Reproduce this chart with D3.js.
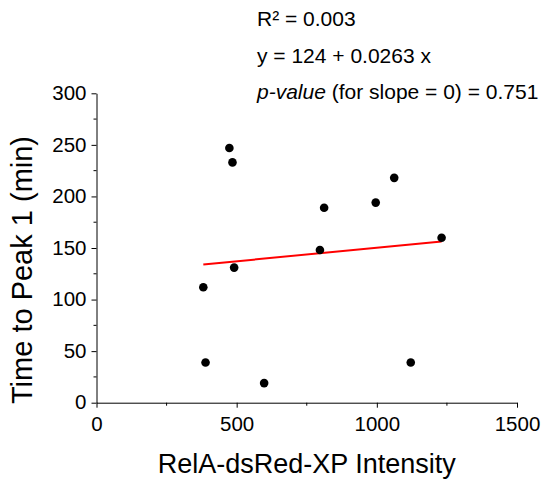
<!DOCTYPE html>
<html>
<head>
<meta charset="utf-8">
<script src="https://cdn.jsdelivr.net/npm/d3@7"></script>
<style>
  body { margin: 0; background: #fff; }
  svg text { font-family: "Liberation Sans", Arial, sans-serif; fill: #000; }
</style>
</head>
<body>
<svg id="chart" width="544" height="481"></svg>
<script>
// values
var intensity = [381, 389, 474, 485, 491, 598, 797, 812, 996, 1062, 1121, 1231];
var peakTime  = [112, 39, 247, 233, 131, 19, 148, 189, 194, 218, 39, 160];

var fitIntercept = 124;
var fitSlope = 0.0263;

var xTicks = [0, 500, 1000, 1500];
var xMinor = [250, 750, 1250];
var yTicks = [0, 50, 100, 150, 200, 250, 300];
var yMinor = [25, 75, 125, 175, 225, 275];

var statLines = ["R\u00B2 = 0.003", "y = 124 + 0.0263 x", "p-value (for slope = 0) = 0.751"];

var svg = d3.select("#chart");

var x = d3.scaleLinear().domain([0, 1500]).range([96.5, 517]);
var y = d3.scaleLinear().domain([0, 300]).range([402.7, 93.3]);

// axes
var xAxis = svg.append("g")
               .attr("transform", "translate(0," + y(0) + ")")
               .call(d3.axisBottom(x).tickValues(xTicks).tickFormat(d3.format("d"))
                       .tickSize(5).tickPadding(9).tickSizeOuter(0));

xAxis.selectAll(".minor")
     .data(xMinor)
     .enter()
     .append("line")
     .attr("class", "minor")
     .attr("x1", function(d) { return x(d) })
     .attr("x2", function(d) { return x(d) })
     .attr("y1", 0)
     .attr("y2", 3)
     .attr("stroke", "#000");

var yAxis = svg.append("g")
               .attr("transform", "translate(" + x(0) + ",0)")
               .call(d3.axisLeft(y).tickValues(yTicks).tickFormat(d3.format("d"))
                       .tickSize(5).tickPadding(5).tickSizeOuter(0));

yAxis.selectAll(".minor")
     .data(yMinor)
     .enter()
     .append("line")
     .attr("class", "minor")
     .attr("y1", function(d) { return y(d) })
     .attr("y2", function(d) { return y(d) })
     .attr("x1", 0)
     .attr("x2", -3)
     .attr("stroke", "#000");

svg.selectAll(".domain").attr("stroke", "#000");
svg.selectAll(".tick line").attr("stroke", "#000");
svg.selectAll(".tick text")
   .style("font-size", "20.5px")
   .attr("fill", "#000");
yAxis.selectAll(".tick text").attr("dy", "0.3em");

// axis titles
svg.append("text")
   .attr("x", (x(0) + x(1500)) / 2)
   .attr("y", 473)
   .attr("text-anchor", "middle")
   .style("font-size", "27px")
   .text("RelA-dsRed-XP Intensity");

svg.append("text")
   .attr("transform", "translate(32," + 270 + ") rotate(-90)")
   .attr("text-anchor", "middle")
   .style("font-size", "29px")
   .text("Time to Peak 1 (min)");

// fit line
var xExt = d3.extent(intensity);
svg.append("line")
   .attr("x1", x(xExt[0]))
   .attr("x2", x(xExt[1]))
   .attr("y1", y(fitIntercept + fitSlope * xExt[0]))
   .attr("y2", y(fitIntercept + fitSlope * xExt[1]))
   .attr("stroke", "#ff0000")
   .attr("stroke-width", 2);

// points
svg.selectAll(".dot")
   .data(intensity)
   .enter()
   .append("circle")
   .attr("class", "dot")
   .attr("cx", function(d) { return x(d) })
   .attr("cy", function(d, i) { return y(peakTime[i]) })
   .attr("r", 4.3)
   .attr("fill", "#000");

// stats text
var stats = svg.append("g").style("font-size", "21px");
var baselines = [26, 63, 99];

stats.append("text").attr("x", 257).attr("y", baselines[0]).text(statLines[0]);
stats.append("text").attr("x", 257).attr("y", baselines[1]).text(statLines[1]);

var pv = stats.append("text").attr("x", 257).attr("y", baselines[2]);
pv.append("tspan").style("font-style", "italic").text(statLines[2].slice(0, 7));
pv.append("tspan").text(statLines[2].slice(7));
</script>
</body>
</html>
